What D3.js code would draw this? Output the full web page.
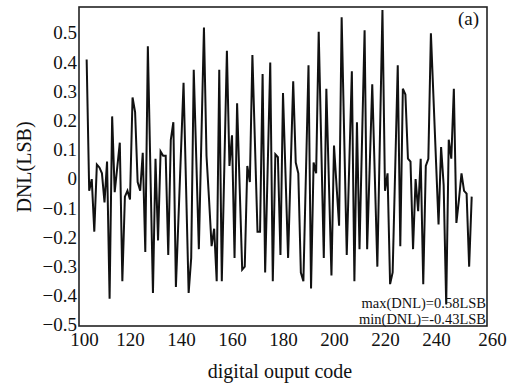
<!DOCTYPE html>
<html>
<head>
<meta charset="utf-8">
<script src="https://cdn.jsdelivr.net/npm/d3@7"></script>
<style>
  body { margin: 0; background: #fff; }
  svg { display: block; font-family: "Liberation Serif", "DejaVu Serif", serif; }
</style>
</head>
<body>
<div id="chart"></div>
<script>
// DNL per output code
const codes = [103,104,105,106,107,108,109,110,111,112,113,114,116,117,118,119,120,121,122,123,124,125,126,127,129,130,131,132,133,134,135,136,137,138,141,143,144,145,147,149,150,151,152,153,154,155,156,158,159,160,161,162,164,165,166,167,168,170,171,172,173,175,176,177,178,179,180,182,184,185,186,187,188,190,191,192,193,194,196,197,199,200,202,203,205,207,208,209,210,212,213,215,217,219,220,221,222,223,225,226,227,228,229,230,231,232,233,234,235,236,237,238,241,242,243,244,245,246,247,248,249,250,251,252,253,254];
const dnl = [0.41,-0.04,0.00,-0.18,0.05,0.04,0.02,-0.08,0.06,-0.41,0.215,-0.045,0.125,-0.35,-0.06,-0.04,-0.07,0.28,0.23,-0.01,-0.04,0.09,-0.25,0.455,-0.39,0.07,-0.21,0.095,0.08,0.08,-0.26,0.135,0.195,-0.37,0.33,-0.39,-0.27,0.375,-0.24,0.52,0.08,-0.07,-0.23,-0.17,-0.35,0.375,-0.35,0.44,0.045,0.15,-0.27,0.26,-0.31,-0.30,0.045,-0.01,0.425,-0.18,-0.18,0.36,-0.32,0.40,-0.35,0.085,0.075,-0.26,0.295,-0.27,0.335,0.057,0.02,-0.32,-0.35,0.39,-0.375,0.057,0.02,0.505,-0.27,0.31,-0.33,0.115,-0.16,0.555,-0.26,0.37,-0.35,0.195,-0.24,0.51,-0.24,0.325,-0.30,0.58,-0.04,0.02,-0.36,-0.32,0.39,-0.23,0.31,0.29,0.07,0.06,-0.24,0.00,-0.11,0.07,-0.36,0.045,0.07,0.50,-0.155,0.11,-0.02,-0.43,0.135,0.07,0.31,-0.15,-0.07,0.02,-0.04,-0.05,-0.30,-0.06];
const xTicks = [100,120,140,160,180,200,220,240,260];
const yTicks = [-0.5,-0.4,-0.3,-0.2,-0.1,0,0.1,0.2,0.3,0.4,0.5];

const W = 507, H = 385;
const box = { left: 79, top: 7, right: 487, bottom: 326 };

const svg = d3.select("#chart").append("svg")
  .attr("width", W).attr("height", H);

const x = d3.scaleLinear().domain([100, 260]).range([box.left, box.right]);
const y = d3.scaleLinear().domain([-0.5, 0.59]).range([325, box.top]);

// plot frame
svg.append("rect")
  .attr("x", box.left).attr("y", box.top)
  .attr("width", box.right - box.left).attr("height", box.bottom - box.top)
  .attr("fill", "none").attr("stroke", "#222").attr("stroke-width", 1.6);

// y axis labels
const yAxis = d3.axisLeft(y).tickValues(yTicks).tickSize(0).tickPadding(2)
  .tickFormat(d => d === 0 ? "0" : d3.format(".1f")(d));
svg.append("g")
  .attr("transform", "translate(" + box.left + ",0)")
  .call(yAxis)
  .call(g => g.select(".domain").remove())
  .selectAll("text")
    .style("font-family", "Liberation Serif")
    .style("font-size", "19px")
    .attr("fill", "#111")
    .attr("dy", "0.3em");

// x axis labels (end labels sit a little right of their ticks)
const xAxis = d3.axisBottom(x).tickValues(xTicks).tickSize(0).tickPadding(7)
  .tickFormat(d3.format("d"));
svg.append("g")
  .attr("transform", "translate(0," + box.bottom + ")")
  .call(xAxis)
  .call(g => g.select(".domain").remove())
  .selectAll("text")
    .style("font-family", "Liberation Serif")
    .style("font-size", "19px")
    .attr("fill", "#111")
    .attr("dx", d => (d === 100 ? 5 : d === 260 ? 5 : 0));

// axis titles
svg.append("text")
  .attr("x", 280).attr("y", 378)
  .attr("text-anchor", "middle")
  .style("font-size", "20px").attr("fill", "#111")
  .text("digital ouput code");

svg.append("text")
  .attr("transform", "translate(31,167) rotate(-90)")
  .attr("text-anchor", "middle")
  .style("font-size", "20px").attr("fill", "#111")
  .text("DNL(LSB)");

// DNL line
const pts = codes.map((c, i) => ({ code: c, v: dnl[i] }));
const line = d3.line()
  .x(d => x(d.code))
  .y(d => y(d.v));
svg.append("path")
  .datum(pts)
  .attr("d", line)
  .attr("fill", "none")
  .attr("stroke", "#111")
  .attr("stroke-width", 2)
  .attr("stroke-linejoin", "miter");

// annotations
svg.append("text")
  .attr("x", 479).attr("y", 25)
  .attr("text-anchor", "end")
  .style("font-size", "19px").attr("fill", "#111")
  .text("(a)");

svg.append("text")
  .attr("x", 486).attr("y", 308)
  .attr("text-anchor", "end")
  .style("font-size", "14.5px").attr("fill", "#111")
  .text("max(DNL)=0.58LSB");

svg.append("text")
  .attr("x", 486).attr("y", 324)
  .attr("text-anchor", "end")
  .style("font-size", "14.5px").attr("fill", "#111")
  .text("min(DNL)=-0.43LSB");
</script>
</body>
</html>
